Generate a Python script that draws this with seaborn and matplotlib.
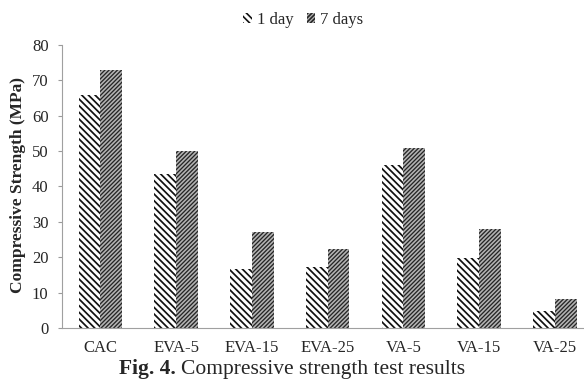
import matplotlib
matplotlib.use("Agg")
import matplotlib.pyplot as plt
from matplotlib.patches import Patch
import numpy as np
import pandas as pd
import seaborn as sns

# Compressive strength (MPa) per mix
mixes = ["CAC", "EVA-5", "EVA-15", "EVA-25", "VA-5", "VA-15", "VA-25"]
strength_1day = [65.8, 43.5, 16.7, 17.3, 46.1, 19.7, 4.8]
strength_7days = [72.8, 49.9, 27.2, 22.3, 50.9, 27.9, 8.2]
ages = ["1 day", "7 days"]
y_ticks = [0, 10, 20, 30, 40, 50, 60, 70, 80]

df = pd.DataFrame({
    "Mix": mixes * 2,
    "Age": [ages[0]] * len(mixes) + [ages[1]] * len(mixes),
    "Strength": strength_1day + strength_7days,
})

sns.set_style("white")
plt.rcParams["font.family"] = ["Liberation Serif", "DejaVu Serif"]
plt.rcParams["hatch.linewidth"] = 1.2

fig = plt.figure(figsize=(5.84, 3.80), dpi=100)
ax = fig.add_axes([0.107, 0.137, 0.908, 0.745])

sns.barplot(data=df, x="Mix", y="Strength", hue="Age", order=mixes,
            hue_order=ages, width=0.575, gap=0, ax=ax, legend=False,
            palette=["white", "#b0b0b0"], saturation=1, errorbar=None)

styles = {
    ages[0]: dict(face="white", edge="#111111", hatch="\\\\\\\\\\", lw=1.25),
    ages[1]: dict(face="#b4b4b4", edge="#262626", hatch="////////", lw=0.95),
}


def style_patch(p, st):
    p.set_facecolor(st["face"])
    p.set_edgecolor(st["edge"])
    p.set_hatch(st["hatch"])
    p.set_linewidth(0)
    if hasattr(p, "set_hatch_linewidth"):
        p.set_hatch_linewidth(st["lw"])


for container, age in zip(ax.containers, ages):
    for bar in container:
        style_patch(bar, styles[age])

ax.set_ylim(0, 80)
ax.set_xlim(-0.5, len(mixes) - 0.5)
ax.set_yticks(y_ticks)
ax.set_yticklabels([str(t) for t in y_ticks], fontsize=12)
ax.set_xticks(range(len(mixes)))
ax.set_xticklabels(mixes, fontsize=12)
ax.tick_params(axis="x", length=0, pad=8.5)
ax.set_xticks(np.arange(-0.5, len(mixes), 1.0), minor=True)
ax.tick_params(axis="x", which="minor", length=3.5, color="#9a9a9a", width=0.8)
ax.tick_params(axis="y", length=3, color="#9a9a9a", width=0.8, pad=7, left=True)
ax.set_xlabel("")
ax.set_ylabel("")

for side in ["top", "right"]:
    ax.spines[side].set_visible(False)
for side in ["left", "bottom"]:
    ax.spines[side].set_color("#a0a0a0")
    ax.spines[side].set_linewidth(0.8)

fig.text(18 / 584, 1 - 185 / 380, "Compressive Strength (MPa)", rotation=90,
         ha="center", va="center", fontsize=12.5, fontweight="bold")

handles = []
for a in ages:
    h = Patch(label=a)
    style_patch(h, styles[a])
    handles.append(h)
fig.legend(handles=handles, loc="center", bbox_to_anchor=(0.519, 0.948),
           ncol=2, frameon=False, fontsize=12, handlelength=0.5,
           handleheight=0.5, handletextpad=0.3, columnspacing=0.8,
           borderaxespad=0)

# Caption: bold figure number followed by regular text, centred as a whole
y_cap = 6 / 380
t1 = fig.text(0, y_cap, "Fig. 4.", fontsize=15.5, fontweight="bold",
              ha="left", va="baseline")
t2 = fig.text(0, y_cap, "Compressive strength test results", fontsize=15.5,
              ha="left", va="baseline")
fig.canvas.draw()
w1 = t1.get_window_extent().width
w2 = t2.get_window_extent().width
gap = 5
total = w1 + gap + w2
x0 = (fig.bbox.width - total) / 2
t1.set_x(x0 / fig.bbox.width)
t2.set_x((x0 + w1 + gap) / fig.bbox.width)

fig.savefig("out.png", dpi=100)
